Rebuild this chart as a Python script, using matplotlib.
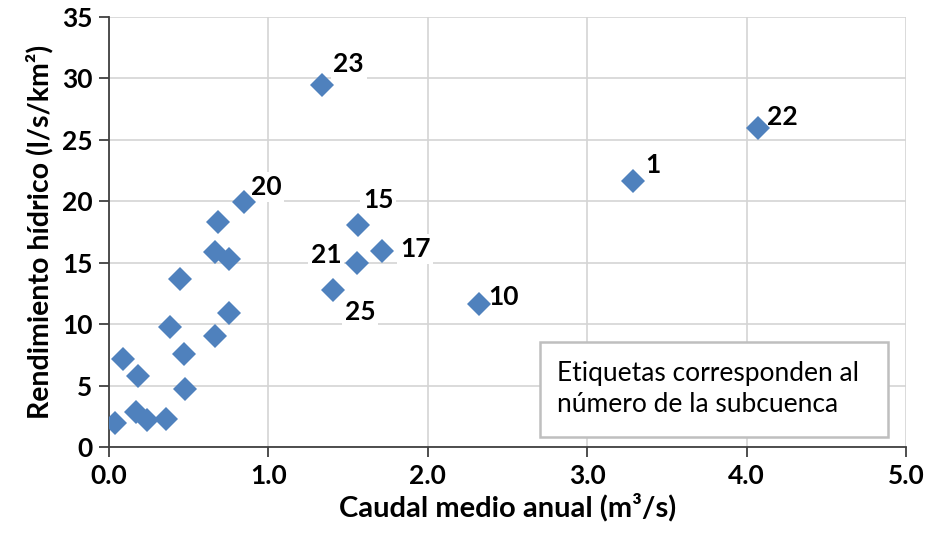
import numpy as np
import matplotlib
matplotlib.use('Agg')
import matplotlib.pyplot as plt
from matplotlib.patches import Rectangle

plt.rcParams['font.family'] = ['Lato', 'DejaVu Sans']

# Caudal medio anual (m3/s) y rendimiento hidrico (l/s/km2)
caudal = [0.04, 0.17, 0.24, 0.36, 0.09, 0.18, 0.48, 0.47, 0.38, 0.665, 0.755,
          0.445, 0.665, 0.755, 0.686, 0.85, 1.334, 1.564, 1.715, 1.558, 1.407,
          2.32, 3.29, 4.07]
rendimiento = [1.95, 2.85, 2.2, 2.3, 7.2, 5.8, 4.7, 7.55, 9.8, 9.05, 10.9,
               13.7, 15.9, 15.3, 18.3, 19.95, 29.45, 18.1, 15.95, 15.0, 12.75,
               11.6, 21.65, 25.95]
# etiquetas (subcuenca) para algunos puntos
etiquetas = {15: '20', 16: '23', 17: '15', 18: '17', 19: '21', 20: '25',
             21: '10', 22: '1', 23: '22'}
# desplazamiento de etiquetas en pixeles
offsets = {15: (22, 15), 16: (27, 21), 17: (20, 25), 18: (33, 2), 19: (-31, 8),
           20: (27, -22), 21: (25, 7), 22: (19, 16), 23: (25, 11)}

fig = plt.figure(figsize=(9.25, 5.44), dpi=100)
ax = fig.add_axes([0.1178, 0.1783, 0.8617, 0.7905])

ax.plot(caudal, rendimiento, 'D', color='#4F81BD', markersize=12.5, markeredgewidth=0, zorder=3)

for i, txt in etiquetas.items():
    dx, dy = offsets[i]
    ax.annotate(txt, (caudal[i], rendimiento[i]), xytext=(dx * 0.72, dy * 0.72),
                textcoords='offset points', ha='center', va='center',
                fontsize=19, fontweight='bold', zorder=2.5,
                bbox=dict(boxstyle='square,pad=0.1', fc='white', ec='none'))

ax.set_xlim(0, 5)
ax.set_ylim(0, 35)
ax.set_xticks(np.arange(0, 5.1, 1.0))
ax.set_xticklabels(['%.1f' % v for v in np.arange(0, 5.1, 1.0)])
ax.set_yticks(np.arange(0, 36, 5))
ax.grid(True, color='#d4d4d4', linewidth=1.2, zorder=0)
ax.set_axisbelow(True)
for s in ['top', 'right']:
    ax.spines[s].set_visible(False)
for s in ['left', 'bottom']:
    ax.spines[s].set_color('#404040')
    ax.spines[s].set_linewidth(1.3)
ax.tick_params(direction='out', length=7, width=1.3, color='#404040', labelsize=19, pad=5)
for lab in ax.get_xticklabels() + ax.get_yticklabels():
    lab.set_fontweight('bold')

ax.set_xlabel('Caudal medio anual (m³/s)', fontsize=21, fontweight='bold', labelpad=4)
ax.set_ylabel('Rendimiento hídrico (l/s/km²)', fontsize=20.5, fontweight='bold', labelpad=6)

# cuadro de texto
ax.add_patch(Rectangle((0.541, 0.023), 0.436, 0.221, transform=ax.transAxes,
                       fc='white', ec='#bfbfbf', lw=1.8, zorder=5))
ax.text(0.562, 0.135, 'Etiquetas corresponden al\nnúmero de la subcuenca',
        transform=ax.transAxes, fontsize=19, linespacing=1.3, va='center', ha='left', zorder=6)

fig.savefig('out.png', dpi=100)
